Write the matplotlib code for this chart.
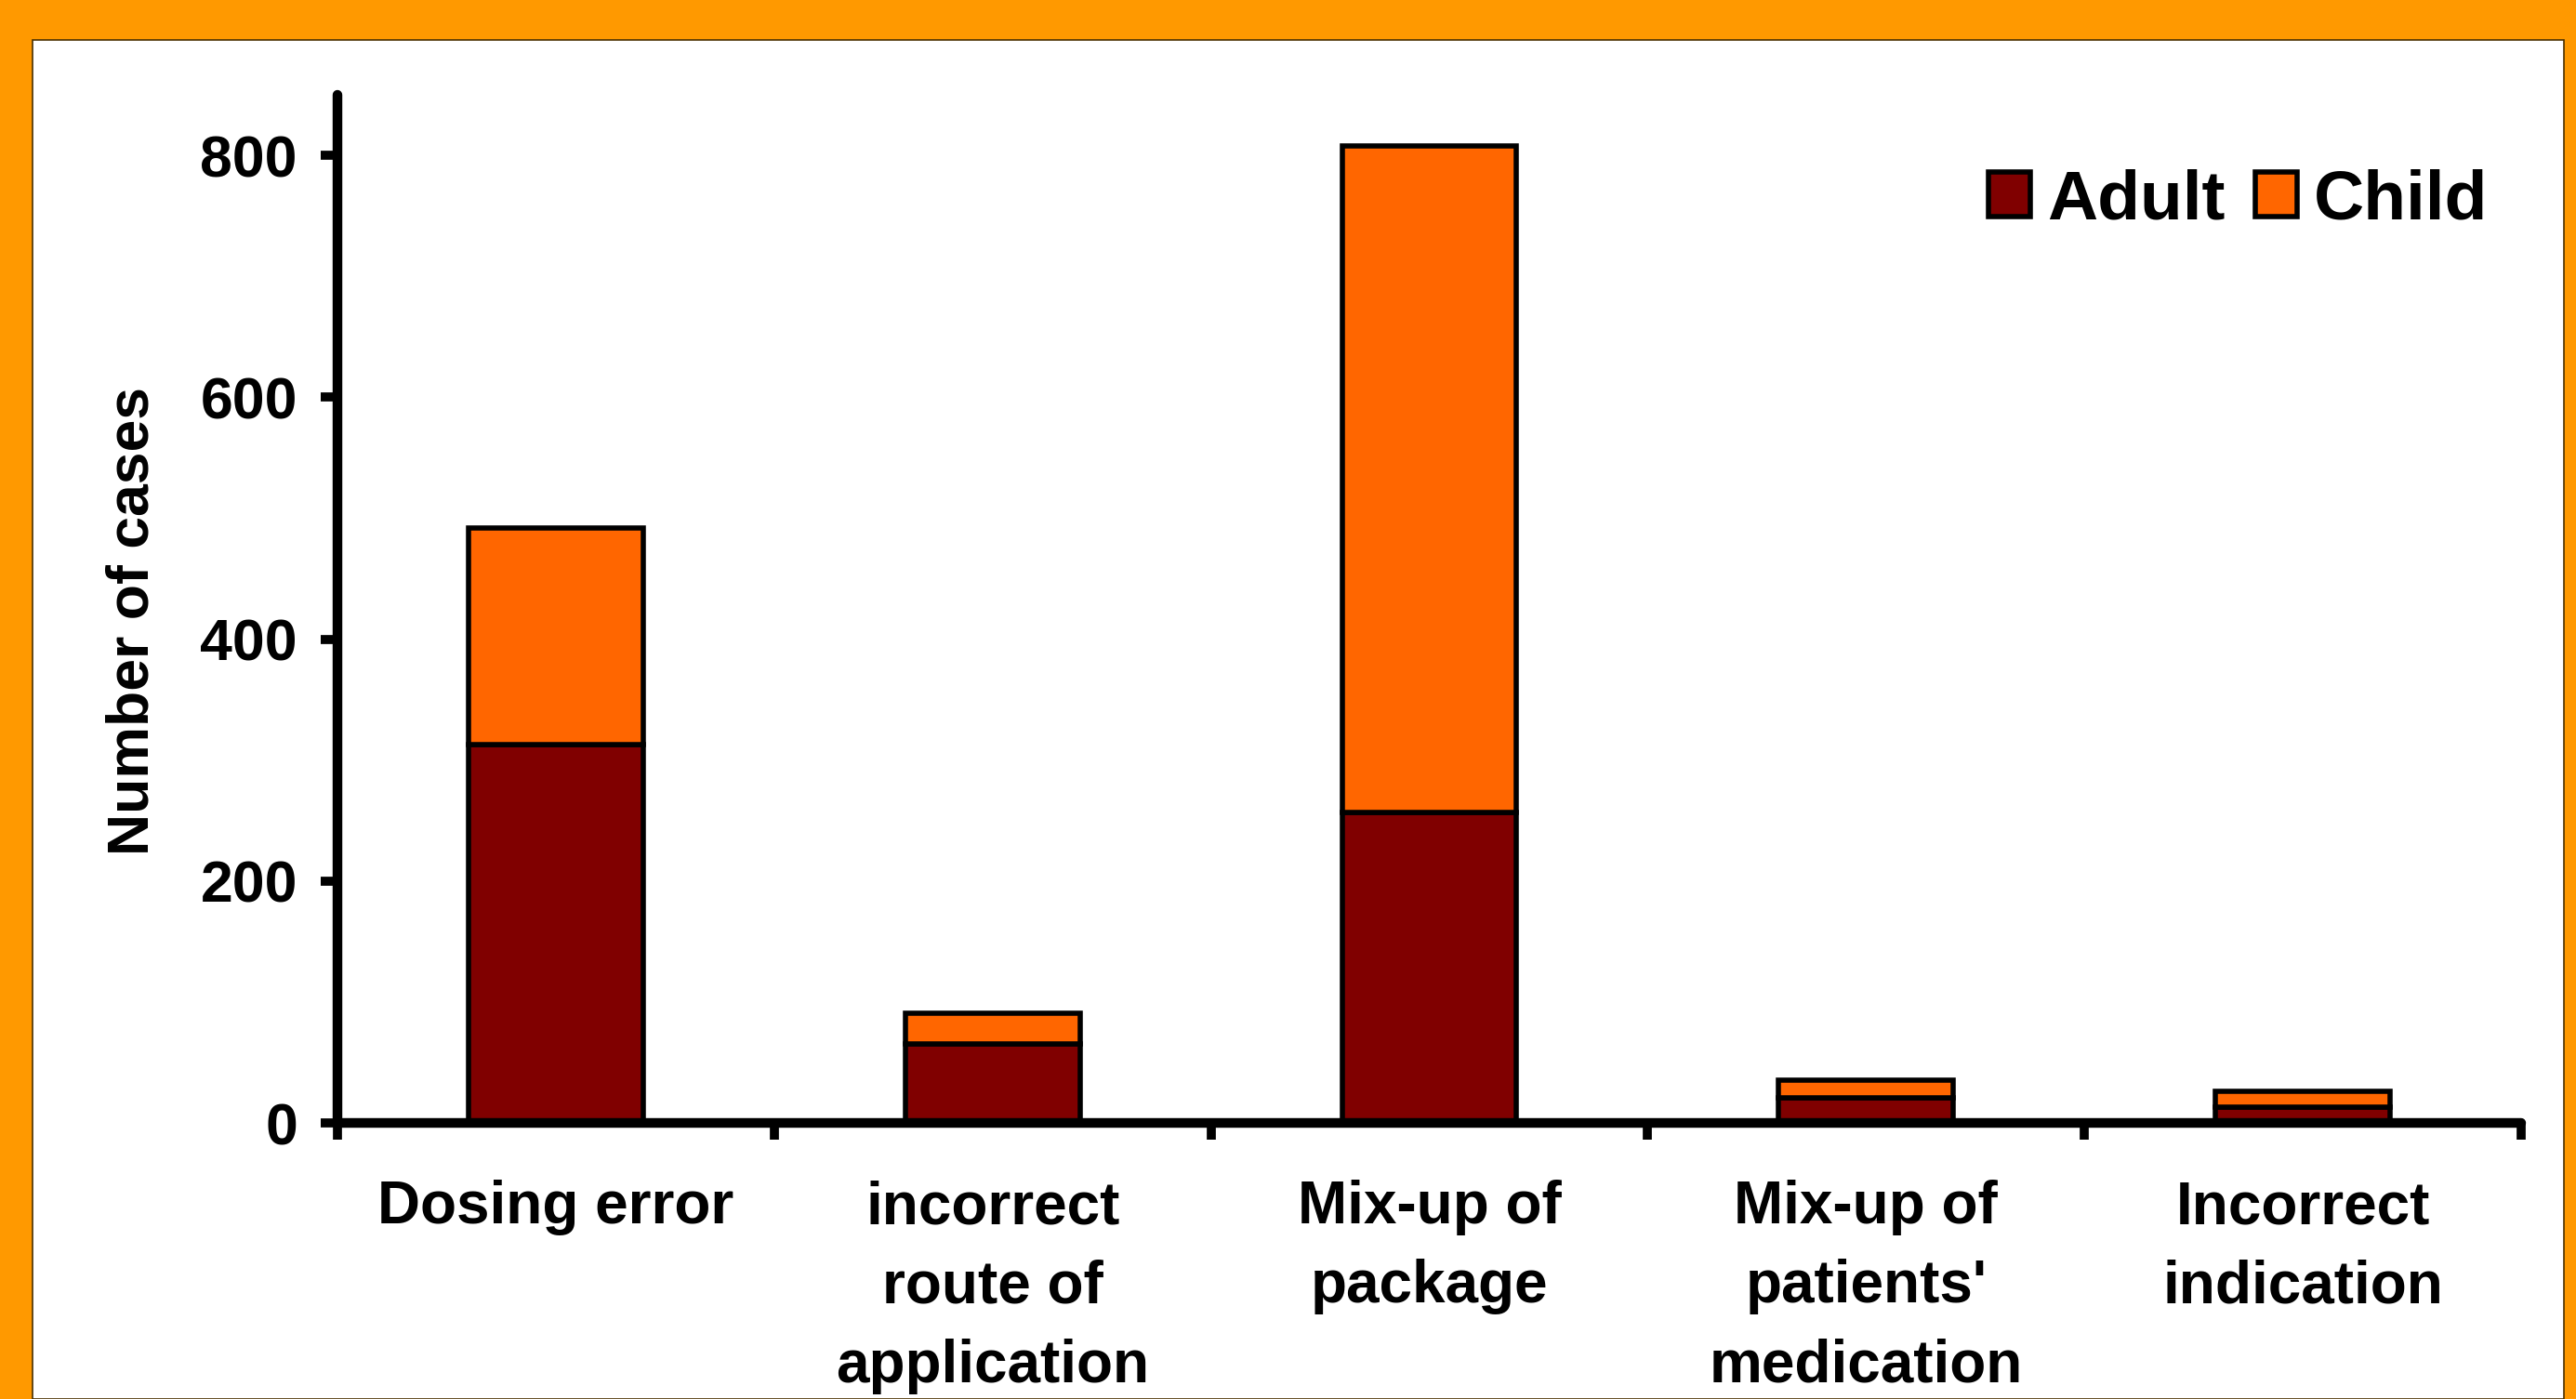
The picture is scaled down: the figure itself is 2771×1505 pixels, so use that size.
import matplotlib
matplotlib.use("Agg")
import matplotlib.pyplot as plt
import numpy as np
from matplotlib.patches import Rectangle

# data
categories = ['Dosing error', 'incorrect\nroute of\napplication', 'Mix-up of\npackage',
              'Mix-up of\npatients\'\nmedication', 'Incorrect\nindication']
adult = [313, 65, 257, 21, 13]
child = [179, 26, 551, 14, 13]
yticks = [0, 200, 400, 600, 800]

plt.rcParams['font.family'] = ['Liberation Sans', 'DejaVu Sans']
plt.rcParams['font.weight'] = 'bold'

fig = plt.figure(figsize=(27.71, 15.05), dpi=100)
fig.patch.set_facecolor('#FF9900')
# white panel inside the orange frame
fig.patches.append(Rectangle((35 / 2771, 0), (2758 - 35) / 2771, 1 - 43 / 1505,
                             transform=fig.transFigure, facecolor='white',
                             edgecolor='#4a3000', linewidth=1.2, zorder=-10))

ax = fig.add_axes([363 / 2771, 1 - 1208 / 1505, (2712 - 363) / 2771, (1208 - 102) / 1505])
ax.set_facecolor('none')

x = np.arange(len(categories))
ax.bar(x, adult, width=0.4, color='#800000', edgecolor='black', linewidth=4, label='Adult', zorder=2)
ax.bar(x, child, width=0.4, bottom=adult, color='#FF6600', edgecolor='black', linewidth=4,
       label='Child', zorder=2)

ax.set_xlim(-0.5, len(categories) - 0.5)
ax.set_ylim(0, 850)
ax.set_yticks(yticks)
ax.set_yticklabels([str(v) for v in yticks])

# ticks between categories, labels at centres
ax.set_xticks(np.arange(len(categories) + 1) - 0.5)
ax.set_xticklabels([])
ax.set_xticks(x, minor=True)
ax.set_xticklabels(categories, minor=True, fontsize=46, fontweight='bold', linespacing=1.54,
                   va='top')
ax.tick_params(axis='x', which='minor', length=0, pad=44)
ax.tick_params(axis='x', which='major', direction='out', length=13, width=7)
ax.tick_params(axis='y', direction='out', length=13, width=7, labelsize=45, pad=18)

for side in ['top', 'right']:
    ax.spines[side].set_visible(False)
for side in ['left', 'bottom']:
    ax.spines[side].set_linewidth(7.5)
    ax.spines[side].set_capstyle('round')

ax.set_ylabel('Number of cases', fontsize=45, fontweight='bold')
ax.yaxis.set_label_coords(-0.081, 0.488)

ax.legend(loc='center right', bbox_to_anchor=(2676 / 2771, 1 - 216 / 1505),
          bbox_transform=fig.transFigure, ncol=2, frameon=False,
          prop={'weight': 'bold', 'size': 54}, handlelength=0.6, handleheight=0.6,
          handletextpad=0.24, columnspacing=0.43, borderpad=0, borderaxespad=0)

fig.savefig('out.png', dpi=100, facecolor=fig.get_facecolor())
